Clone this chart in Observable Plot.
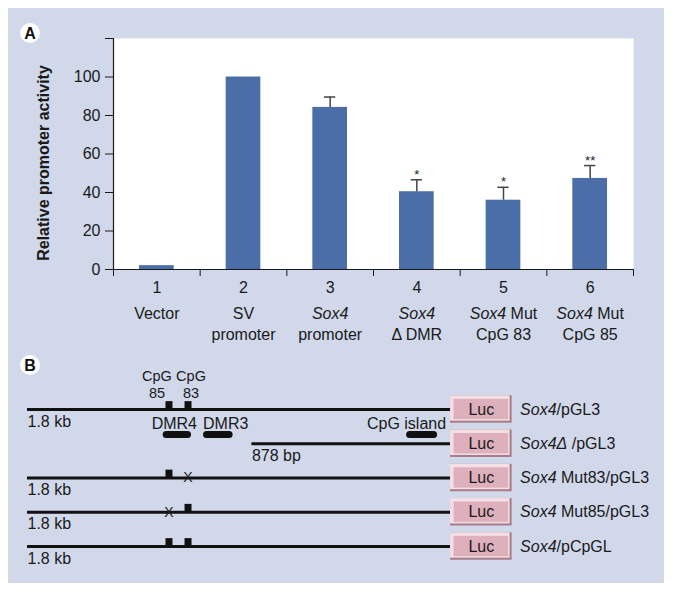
<!DOCTYPE html>
<html><head><meta charset="utf-8">
<script src="https://cdn.jsdelivr.net/npm/d3@7"></script>
<script src="https://cdn.jsdelivr.net/npm/@observablehq/plot@0.6"></script>
<style>
html,body{margin:0;padding:0;background:#fff}
body{width:674px;height:592px;position:relative;overflow:hidden;font-family:"Liberation Sans",Arial,sans-serif}
#panel{position:absolute;left:8px;top:8px;width:656px;height:575px;background:#d0d8ea}
#a,#b{position:absolute;left:0;width:674px}
#a{top:0}
#b{top:340px}
#a svg,#b svg{max-width:none;display:block}
.badge{position:absolute;width:20px;height:20px;border-radius:50%;background:#fff;font:bold 16px "Liberation Sans",Arial,sans-serif;text-align:center;line-height:21px;color:#111}
</style></head><body>
<div id="panel"></div>
<div id="a"></div>
<div id="b"></div>
<div class="badge" style="left:20px;top:23px">A</div>
<div class="badge" style="left:20px;top:355px">B</div>
<script>
// ---------- Panel A data ----------
const categories = ["1", "2", "3", "4", "5", "6"];
const categoryNames = ["Vector", "SV\npromoter", "Sox4\npromoter", "Sox4\nΔ DMR", "Sox4 Mut\nCpG 83", "Sox4 Mut\nCpG 85"];
const activity = [2, 100, 84.2, 40.4, 36, 47.3];
const errorTop = [null, null, 89.6, 46.6, 42.7, 54];
const significance = ["", "", "", "*", "*", "**"];
const yTicks = [0, 20, 40, 60, 80, 100, 120];
const yLabel = "Relative promoter activity";

// ---------- Panel B data ----------
const constructs = ["Sox4/pGL3", "Sox4Δ /pGL3", "Sox4 Mut83/pGL3", "Sox4 Mut85/pGL3", "Sox4/pCpGL"];
const constructStart = [-1800, -845, -1800, -1800, -1800]; // bp upstream of Luc
const lengthLabels = ["1.8 kb", "878 bp", "1.8 kb", "1.8 kb", "1.8 kb"];
const cpgSites = ["85", "83"];
const cpgPos = [-1198, -1117];
const cpgStatus = [
  ["intact", "absent", "intact", "mutated", "intact"], // CpG 85
  ["intact", "absent", "mutated", "intact", "intact"]  // CpG 83
];
const regionNames = ["DMR4", "DMR3", "CpG island"];
const regionStart = [-1208, -1036, -172];
const regionEnd = [-1117, -940, -70];
const reporter = "Luc";
const reporterLength = 262;

const FONT = '"Liberation Sans", Arial, sans-serif';

function italicize(svg) {
  const els = Array.from(svg.querySelectorAll("text, tspan"));
  els.forEach(el => {
    if (el.childNodes.length !== 1 || el.firstChild.nodeType !== 3) return;
    const s = el.textContent;
    const m = s.match(/^(Sox4Δ?)(.*)$/);
    if (!m) return;
    el.textContent = "";
    const it = document.createElementNS("http://www.w3.org/2000/svg", "tspan");
    it.setAttribute("font-style", "italic");
    it.textContent = m[1];
    el.appendChild(it);
    el.appendChild(document.createTextNode(m[2]));
  });
}

// ---------- Panel A ----------
const rowsA = categories.map((c, i) => ({
  pos: i + 1, cat: c, name: categoryNames[i], value: activity[i], err: errorTop[i], sig: significance[i]
}));
const withErr = rowsA.filter(d => d.err != null);
const separators = categories.map((c, i) => i + 0.5).concat([categories.length + 0.5]);

const chartA = Plot.plot({
  width: 674, height: 350,
  marginLeft: 113, marginRight: 41, marginTop: 38, marginBottom: 81,
  style: {background: "transparent", fontFamily: FONT, fontSize: "16px", color: "#1a1a1a"},
  x: {domain: [0.5, categories.length + 0.5], axis: null},
  y: {domain: [0, 120], axis: null},
  marks: [
    Plot.frame({fill: "white", stroke: "none"}),
    Plot.rectY(rowsA, {x1: d => d.pos - 0.2, x2: d => d.pos + 0.2, y: "value", fill: "#4b6ea9"}),
    Plot.ruleX(withErr, {x: "pos", y1: "value", y2: "err", stroke: "#444", strokeWidth: 1.5}),
    Plot.ruleY(withErr, {y: "err", x1: d => d.pos - 0.065, x2: d => d.pos + 0.065, stroke: "#444", strokeWidth: 1.5}),
    Plot.text(rowsA, {x: "pos", y: d => d.err ?? d.value, text: "sig", dy: -5, fontSize: 13, fill: "#222"}),
    Plot.axisY({ticks: yTicks, tickSize: 8, tickPadding: 5, tickFormat: d => d === 120 ? "" : d, fontSize: 16, label: null}),
    Plot.ruleX([0.5], {y1: 0, y2: 120, stroke: "#1a1a1a", strokeWidth: 1.2}),
    Plot.ruleY([0], {stroke: "#1a1a1a", strokeWidth: 1.2}),
    Plot.axisX({ticks: separators, tickSize: 7, tickFormat: () => "", label: null}),
    Plot.axisX({ticks: rowsA.map(d => d.pos), tickSize: 0, tickPadding: 12, tickFormat: d => categories[d - 1], fontSize: 16, label: null}),
    Plot.text(rowsA, {x: "pos", text: "name", frameAnchor: "bottom", lineAnchor: "top", dy: 35, lineHeight: 1.3, fontSize: 16}),
    Plot.text([yLabel], {text: d => d, frameAnchor: "left", textAnchor: "middle", rotate: -90, dx: -70, dy: 9, fontWeight: "bold", fontSize: 16})
  ]
});
italicize(chartA);
document.getElementById("a").appendChild(chartA);

// ---------- Panel B ----------
const rowsB = constructs.map((name, i) => ({row: i + 1, name, start: constructStart[i], len: lengthLabels[i]}));
const siteMarks = [];
rowsB.forEach((r, i) => cpgSites.forEach((s, j) => {
  const st = cpgStatus[j][i];
  if (st !== "absent") siteMarks.push({row: r.row, pos: cpgPos[j], status: st});
}));
const siteInfo = cpgSites.map((s, j) => ({name: s, pos: cpgPos[j], row: 1}));
const regions = regionNames.map((n, i) => ({name: n, x1: regionStart[i], x2: regionEnd[i], row: 1}));

const chartB = Plot.plot({
  width: 674, height: 252,
  style: {background: "transparent", fontFamily: FONT, fontSize: "16px", color: "#1a1a1a"},
  x: {domain: [-1800, 953], range: [27, 674], axis: null},
  y: {domain: [0, 6], range: [34.75, 240.25], axis: null},
  marks: [
    Plot.ruleY(rowsB, {y: "row", x1: "start", x2: 0, stroke: "#111", strokeWidth: 3}),
    Plot.text(rowsB, {x: "start", y: "row", text: "len", textAnchor: "start", lineAnchor: "bottom", dy: 17, fontSize: 16}),
    Plot.ruleX(siteMarks.filter(d => d.status === "intact"), {x: "pos", y1: "row", y2: d => d.row - 0.23, stroke: "#111", strokeWidth: 7}),
    Plot.text(siteMarks.filter(d => d.status === "mutated"), {x: "pos", y: "row", text: () => "X", fontSize: 14}),
    Plot.text(siteInfo.slice(0, 1), {x: "pos", y: "row", text: d => "CpG\n" + d.name, dx: -12, lineAnchor: "bottom", dy: -12, lineHeight: 1.15, fontSize: 14.5}),
    Plot.text(siteInfo.slice(1), {x: "pos", y: "row", text: d => "CpG\n" + d.name, dx: 3, lineAnchor: "bottom", dy: -12, lineHeight: 1.15, fontSize: 14.5}),
    Plot.ruleY(regions, {y: "row", x1: "x1", x2: "x2", dy: 25, stroke: "#111", strokeWidth: 7, strokeLinecap: "round"}),
    Plot.text(regions.slice(0, 1), {x: "x2", y: "row", text: "name", textAnchor: "end", dx: 9, lineAnchor: "bottom", dy: 19, fontSize: 16}),
    Plot.text(regions.slice(1, 2), {x: "x1", y: "row", text: "name", textAnchor: "start", dx: -4, lineAnchor: "bottom", dy: 19, fontSize: 16}),
    Plot.text(regions.slice(2), {x: "x2", y: "row", text: "name", textAnchor: "end", dx: 12, lineAnchor: "bottom", dy: 19, fontSize: 16}),
    Plot.rect(rowsB, {x1: 0, x2: reporterLength, y1: d => d.row - 0.4, y2: d => d.row + 0.4, fill: "#a97a87"}),
    Plot.rect(rowsB, {x1: 0, x2: reporterLength, y1: d => d.row - 0.4, y2: d => d.row + 0.4, insetRight: 2, insetBottom: 2, fill: "#f3dfe4"}),
    Plot.rect(rowsB, {x1: 0, x2: reporterLength, y1: d => d.row - 0.4, y2: d => d.row + 0.4, inset: 3.5, fill: "#ddb0bc"}),
    Plot.text(rowsB, {x: reporterLength / 2, y: "row", text: () => reporter, fontSize: 16, fill: "#1a1a1a"}),
    Plot.text(rowsB, {x: reporterLength, y: "row", text: "name", textAnchor: "start", dx: 8, fontSize: 16})
  ]
});
italicize(chartB);
document.getElementById("b").appendChild(chartB);
</script>
</body></html>
